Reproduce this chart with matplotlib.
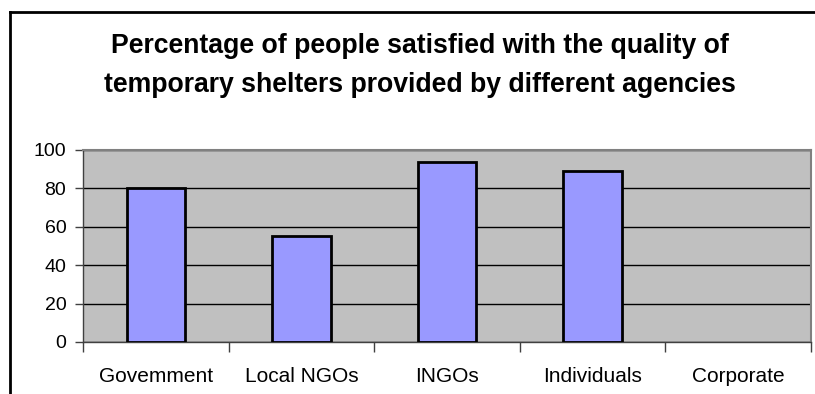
import matplotlib
matplotlib.use("Agg")
import matplotlib.pyplot as plt
from matplotlib.lines import Line2D
import numpy as np

categories = ["Govemment", "Local NGOs", "INGOs", "Individuals", "Corporate"]
satisfied_pct = [80, 55, 94, 89, 0]
y_ticks = [0, 20, 40, 60, 80, 100]

plt.rcParams["font.family"] = ["Liberation Sans", "DejaVu Sans"]

W, H = 815, 394
fig = plt.figure(figsize=(W / 100, H / 100), dpi=100)
fig.patch.set_facecolor("white")

ax = fig.add_axes([83 / W, (H - 342) / H, (811 - 83) / W, (342 - 150) / H])
ax.set_facecolor("#C0C0C0")

x = np.arange(len(categories))
edge_widths = [2 if v > 0 else 0 for v in satisfied_pct]
ax.bar(x, satisfied_pct, width=0.4, color="#9999FF", edgecolor="black",
       linewidth=edge_widths, zorder=3)

ax.set_xlim(-0.5, len(categories) - 0.5)
ax.set_ylim(0, 100)
ax.set_yticks(y_ticks)
ax.yaxis.grid(True, color="black", linewidth=1, zorder=1)
ax.set_axisbelow(True)

# category boundaries carry the tick marks, centres carry the labels
ax.set_xticks(np.arange(len(categories) + 1) - 0.5)
ax.set_xticklabels([])
ax.set_xticks(x, minor=True)
ax.set_xticklabels(categories, minor=True, fontsize=15)
ax.tick_params(axis="x", which="major", length=7, width=1, direction="out", color="#404040")
ax.tick_params(axis="x", which="minor", length=0, pad=18)
ax.tick_params(axis="y", length=6, width=1, direction="out", pad=6, labelsize=14, color="#404040")

for side in ("top", "right"):
    ax.spines[side].set_color("#808080")
    ax.spines[side].set_linewidth(1.5)
for side in ("left", "bottom"):
    ax.spines[side].set_color("#404040")
    ax.spines[side].set_linewidth(1)

fig.text(420 / W, 1 - 65.5 / H,
         "Percentage of people satisfied with the quality of\n"
         "temporary shelters provided by different agencies",
         ha="center", va="center", fontsize=19.2, fontweight="bold",
         linespacing=1.66)

# chart frame
fig.add_artist(Line2D([10 / W, 1.0], [1 - 12 / H, 1 - 12 / H],
                      transform=fig.transFigure, color="black", linewidth=2))
fig.add_artist(Line2D([10 / W, 10 / W], [0, 1 - 12 / H],
                      transform=fig.transFigure, color="black", linewidth=2))

fig.savefig("out.png", dpi=100)
